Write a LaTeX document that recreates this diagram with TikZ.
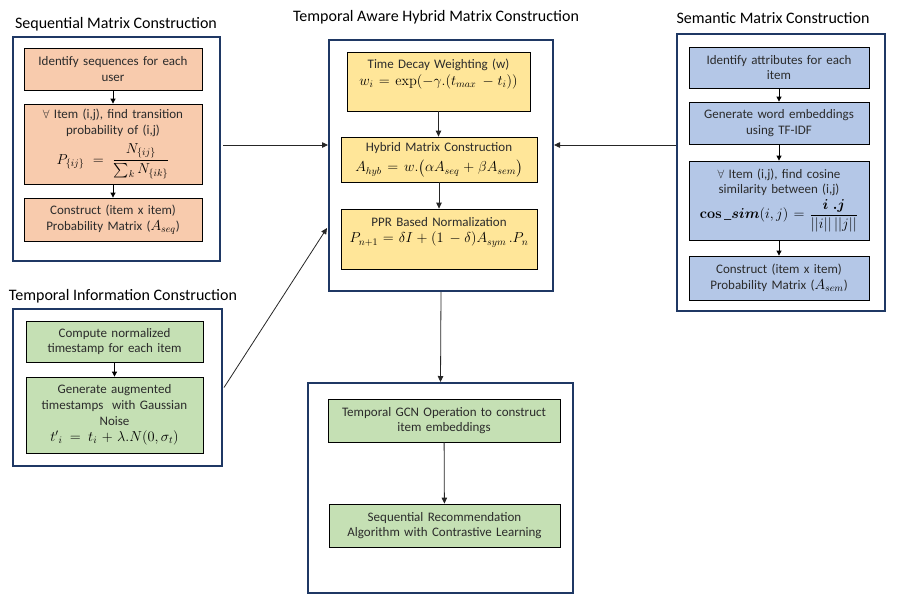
\documentclass[tikz,border=0pt]{standalone}
\usepackage{amsmath}
\usepackage[no-math]{fontspec}
\setmainfont{Carlito}
\usetikzlibrary{arrows.meta}
\definecolor{framec}{HTML}{1F3864}
\definecolor{orangec}{HTML}{F8CBAD}
\definecolor{yellowc}{HTML}{FFE699}
\definecolor{bluec}{HTML}{B4C7E7}
\definecolor{greenc}{HTML}{C5E0B4}
\definecolor{txtc}{HTML}{2B2B2B}
\newcommand{\fm}[1]{{\fontsize{14.5}{17}\selectfont\color{black}$#1$}}
\tikzset{
  outerbox/.style={draw=framec, line width=2pt, fill=white, inner sep=0pt},
  stepbox/.style={draw=black, line width=0.8pt, inner sep=0pt, align=center, text=txtc,
     font=\fontsize{13}{15.7}\selectfont},
  orangebox/.style={stepbox, fill=orangec},
  yellowbox/.style={stepbox, fill=yellowc},
  bluebox/.style={stepbox, fill=bluec},
  greenbox/.style={stepbox, fill=greenc},
  titletext/.style={font=\fontsize{16}{18}\selectfont, text=black, inner sep=0pt},
  arr/.style={draw=black!85, line width=0.8pt, -{Triangle[length=6pt,width=5.5pt]}},
  sarr/.style={draw=black, line width=0.8pt, -{Triangle[length=5pt,width=5pt]}},
}
\begin{document}
\begin{tikzpicture}[x=1pt,y=-1pt]
\useasboundingbox[fill=white] (0,0) rectangle (907,598);

% Sequential Matrix Construction
\node[titletext] (seqt) at (116,24) {Sequential Matrix Construction};
\node[outerbox, minimum width=207pt, minimum height=224pt] (seq) at (116.5,149) {};
\node[orangebox, minimum width=178pt, minimum height=42pt, text width=172pt] (s1) at (113,69)
  {Identify sequences for each\\ user};
\node[orangebox, minimum width=178pt, minimum height=80pt, text width=172pt] (s2) at (113,144)
  {$\forall$ Item (i,j), find transition\\ probability of (i,j)\\[6pt]
   \fm{P_{\{ij\}} = \dfrac{N_{\{ij\}}}{\sum_k N_{\{ik\}}}}};
\node[orangebox, minimum width=178pt, minimum height=43pt, text width=172pt] (s3) at (113,219.5)
  {Construct (item x item)\\ Probability Matrix (\fm{A_{seq}})};
\draw[sarr] (s1) -- (s2);
\draw[sarr] (s2) -- (s3);

% Temporal Information Construction
\node[titletext] (tmpt) at (123,296) {Temporal Information Construction};
\node[outerbox, minimum width=209pt, minimum height=157pt] (tmp) at (117.5,387.5) {};
\node[greenbox, minimum width=177pt, minimum height=41pt, text width=171pt] (t1) at (114.5,341.5)
  {Compute normalized\\ timestamp for each item};
\node[greenbox, minimum width=177pt, minimum height=76pt, text width=171pt] (t2) at (114.5,415)
  {Generate augmented\\ timestamps\ \ with Gaussian\\ Noise\\[1pt]
   \fm{t'{}_i = t_i + \lambda.N(0,\sigma_t)}};
\draw[sarr] (t1) -- (t2);

% Temporal Aware Hybrid Matrix Construction
\node[titletext] (ctrt) at (436,17) {Temporal Aware Hybrid Matrix Construction};
\node[outerbox, minimum width=224pt, minimum height=251pt] (ctr) at (441,165.5) {};
\node[yellowbox, minimum width=183pt, minimum height=59pt, text width=177pt] (c1) at (438.5,81.5)
  {Time Decay Weighting (w)\\[1pt]
   \fm{w_i = \exp(-\gamma.(t_{max}\, - t_i))}\rule[-19pt]{0pt}{0pt}};
\node[yellowbox, minimum width=196pt, minimum height=45pt, text width=190pt] (c2) at (439,159.5)
  {Hybrid Matrix Construction\\[5pt]
   \fm{A_{hyb} = w.\big(\alpha A_{seq} + \beta A_{sem}\big)}};
\node[yellowbox, minimum width=196pt, minimum height=60pt, text width=190pt] (c3) at (439,239)
  {PPR Based Normalization\\[1pt]
   \fm{P_{n+1} = \delta I + (1\, - \mathrm{\delta})A_{sym}\,.P_n}\rule[-18pt]{0pt}{0pt}};
\draw[arr] (c1.south) -- (c1.south |- c2.north);
\draw[arr] (c2.south) -- (c2.south |- c3.north);

% Semantic Matrix Construction
\node[titletext] (semt) at (773,18) {Semantic Matrix Construction};
\node[outerbox, minimum width=208pt, minimum height=277pt] (sem) at (781,172.5) {};
\node[bluebox, minimum width=180pt, minimum height=41pt, text width=174pt] (m1) at (779,67.5)
  {Identify attributes for each\\ item};
\node[bluebox, minimum width=180pt, minimum height=42pt, text width=174pt] (m2) at (779,123)
  {Generate word embeddings\\ using TF-IDF};
\node[bluebox, minimum width=180pt, minimum height=79pt, text width=174pt] (m3) at (779,200.5)
  {$\forall$ Item (i,j), find cosine\\ similarity between (i,j)\\[2pt]
   \fm{\boldsymbol{\cos}\,\_\boldsymbol{sim}(i,j) = \dfrac{\boldsymbol{i\ .j}}{||i||\,||j||}}};
\node[bluebox, minimum width=180pt, minimum height=44pt, text width=174pt] (m4) at (779,278)
  {Construct (item x item)\\ Probability Matrix (\fm{A_{sem}})};
\draw[sarr] (m1) -- (m2);
\draw[sarr] (m2) -- (m3);
\draw[sarr] (m3) -- (m4);

% Bottom
\node[outerbox, minimum width=265pt, minimum height=210pt] (bot) at (440.5,488) {};
\node[greenbox, minimum width=232pt, minimum height=43pt, text width=226pt] (b1) at (444,420.5)
  {Temporal GCN Operation to construct\\ item embeddings};
\node[greenbox, minimum width=231pt, minimum height=43pt, text width=225pt] (b2) at (444.5,525.5)
  {Sequential Recommendation\\ Algorithm with Contrastive Learning};
\draw[arr] (b1) -- (b2);

% Connectors between groups
\coordinate (hy) at (0,145);
\coordinate (dy) at (0,228);
\draw[arr] ([xshift=2pt]seq.east |- hy) -- (ctr.west |- hy);
\draw[arr] (sem.west |- hy) -- (ctr.east |- hy);
\draw[arr] ([xshift=1pt]tmp.east) -- ([xshift=-1pt]ctr.west |- dy);
\draw[arr] (ctr.south) -- (bot.north);
\end{tikzpicture}
\end{document}
